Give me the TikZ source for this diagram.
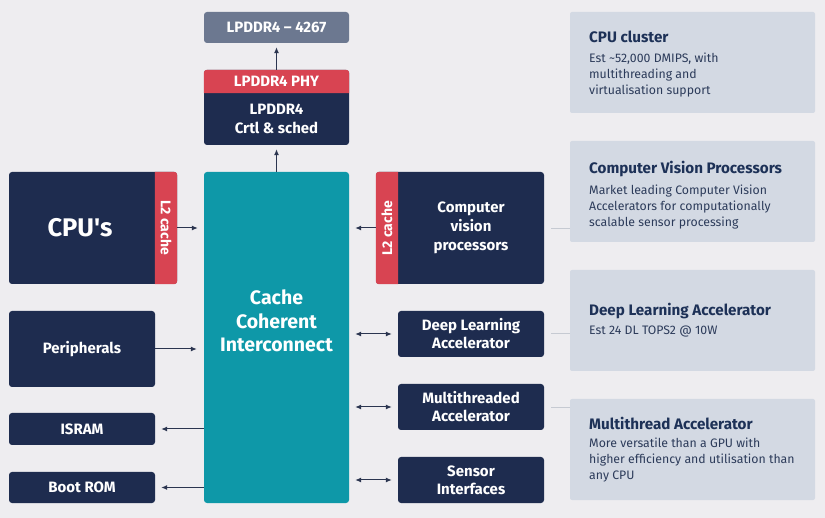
\documentclass[tikz,border=0pt]{standalone}
\usepackage{fontspec}
\setmainfont{Fira Sans}
\usetikzlibrary{arrows.meta}
\definecolor{bg}{HTML}{EEEDF0}
\definecolor{navy}{HTML}{1E2C4F}
\definecolor{l2red}{HTML}{D84452}
\definecolor{teal}{HTML}{0E98A8}
\definecolor{memgray}{HTML}{6C7890}
\definecolor{panelbg}{HTML}{D3D9E3}
\definecolor{paneltitle}{HTML}{1D3157}
\definecolor{paneltext}{HTML}{2C3B5A}
\definecolor{arrowc}{HTML}{2B3550}
\definecolor{faintc}{HTML}{C6CAD2}
\tikzset{
  blk/.style={fill=navy, rounded corners=3pt, inner sep=0pt, text=white, align=center,
              font=\fontsize{15}{18}\selectfont\bfseries},
  stripbox/.style={inner sep=0pt},
  panelbox/.style={fill=panelbg, rounded corners=2pt, inner sep=0pt, minimum width=245pt, minimum height=101pt},
  ptitle/.style={anchor=west, inner sep=0pt, text=paneltitle, font=\fontsize{15.2}{16}\selectfont\bfseries},
  pbody/.style={anchor=north west, inner sep=0pt, text=paneltext, align=left,
                font=\fontsize{12.3}{16}\selectfont},
  arr/.style={draw=arrowc, line width=1pt, -{Latex[length=6pt,width=5pt]}},
  darr/.style={draw=arrowc, line width=1pt, {Latex[length=6pt,width=5pt]}-{Latex[length=6pt,width=5pt]}},
  faint/.style={draw=faintc, line width=0.8pt},
  wtext/.style={text=white, inner sep=0pt, align=center}
}
\begin{document}
\begin{tikzpicture}[x=1pt,y=-1pt]
\useasboundingbox[fill=bg] (0,0) rectangle (825,518);

% memory column
\node[blk, fill=memgray, minimum width=145pt, minimum height=31pt] (mem) at (276.5,27.5) {LPDDR4 -- 4267};
\node[blk, minimum width=145pt, minimum height=75pt] (ctrlbg) at (276.5,107.5) {};
\node[stripbox, minimum width=145pt, minimum height=23pt] (phy) at (276.5,81.5) {};
\fill[l2red] (phy.south west) [rounded corners=3pt] -- (phy.north west) -- (phy.north east) [sharp corners] -- (phy.south east) -- cycle;
\node[wtext, font=\fontsize{15}{18}\selectfont\bfseries] (phyt) at (phy.center) {LPDDR4 PHY};
\node[wtext, font=\fontsize{15}{19}\selectfont\bfseries] (ctrl) at (276.5,119) {LPDDR4\\Crtl \& sched};

% interconnect
\node[fill=teal, rounded corners=3pt, minimum width=145pt, minimum height=331pt, inner sep=0pt] (ic) at (276.5,337.5) {};
\node[wtext, font=\fontsize{19.5}{23.5}\selectfont\bfseries] (ict) at (276.5,321) {Cache\\Coherent\\Interconnect};

% CPU
\node[blk, minimum width=168pt, minimum height=112pt] (cpu) at (93,228) {};
\node[stripbox, minimum width=22pt, minimum height=112pt] (cpul2) at (166,228) {};
\fill[l2red] (cpul2.north west) [rounded corners=3pt] -- (cpul2.north east) -- (cpul2.south east) [sharp corners] -- (cpul2.south west) -- cycle;
\node[wtext, font=\fontsize{25.5}{30}\selectfont\bfseries] (cput) at (80,228) {CPU\textquotesingle s};
\node[wtext, rotate=-90, font=\fontsize{14}{15}\selectfont\bfseries] (cpul2t) at (cpul2.center) {L2 cache};

% CV
\node[blk, minimum width=168pt, minimum height=112pt] (cv) at (460,228) {};
\node[stripbox, minimum width=22pt, minimum height=112pt] (cvl2) at (387,228) {};
\fill[l2red] (cvl2.north east) [rounded corners=3pt] -- (cvl2.north west) -- (cvl2.south west) [sharp corners] -- (cvl2.south east) -- cycle;
\node[wtext, font=\fontsize{15}{19}\selectfont\bfseries] (cvt) at (471,228) {Computer\\vision\\processors};
\node[wtext, rotate=90, font=\fontsize{14}{15}\selectfont\bfseries] (cvl2t) at (cvl2.center) {L2 cache};

% left column
\node[blk, minimum width=146pt, minimum height=76pt] (per) at (82,349) {Peripherals};
\node[blk, minimum width=146pt, minimum height=32pt] (isram) at (82,429) {ISRAM};
\node[blk, minimum width=146pt, minimum height=31pt] (boot) at (82,487.5) {Boot ROM};

% right column
\node[blk, minimum width=146pt, minimum height=46pt] (dla) at (471,334) {Deep Learning\\Accelerator};
\node[blk, minimum width=146pt, minimum height=46pt] (mta) at (471,407) {Multithreaded\\Accelerator};
\node[blk, minimum width=146pt, minimum height=46pt] (sens) at (471,480) {Sensor\\Interfaces};

% arrows
\draw[arr, shorten >=4pt] (ic.north) -- (ctrlbg.south);
\draw[arr, shorten >=4pt] (phy.north) -- (mem.south);
\draw[arr, shorten >=6pt] (cpul2.east) -- (ic.west |- cpul2.east);
\draw[arr, shorten >=6pt] (cvl2.west) -- (ic.east |- cvl2.west);
\draw[arr, shorten >=7pt] (per.east) -- (ic.west |- per.east);
\draw[arr, shorten >=6pt] (ic.west |- isram.east) -- (isram.east);
\draw[arr, shorten >=6pt] (ic.west |- boot.east) -- (boot.east);
\draw[darr, shorten >=6pt, shorten <=6pt] (ic.east |- dla.west) -- (dla.west);
\draw[darr, shorten >=6pt, shorten <=6pt] (ic.east |- mta.west) -- (mta.west);
\draw[darr, shorten >=6pt, shorten <=6pt] (ic.east |- sens.west) -- (sens.west);

% panels
\node[panelbox] (p1) at (692.5,62.5) {};
\node[panelbox] (p2) at (692.5,191.5) {};
\node[panelbox] (p3) at (692.5,320.5) {};
\node[panelbox] (p4) at (692.5,449.5) {};

\node[ptitle] (p1t) at (589,37) {CPU cluster};
\node[pbody] (p1b) at (589,52.5) {Est \textasciitilde52,000 DMIPS, with\\multithreading and\\virtualisation support};
\node[ptitle] (p2t) at (589,169) {Computer Vision Processors};
\node[pbody] (p2b) at (589,184.5) {Market leading Computer Vision\\Accelerators for computationally\\scalable sensor processing};
\node[ptitle] (p3t) at (589,311) {Deep Learning Accelerator};
\node[pbody] (p3b) at (589,326) {Est 24 DL TOPS2 @ 10W};
\node[ptitle] (p4t) at (589,423) {Multithread Accelerator};
\node[pbody] (p4b) at (589,437.5) {More versatile than a GPU with\\higher efficiency and utilisation than\\any CPU};

% faint connectors
\coordinate (f1) at (551,228);
\coordinate (f2) at (551,333);
\coordinate (f3) at (551,407);
\draw[faint] (f1) -- (p2.west |- f1);
\draw[faint] (f2) -- (p3.west |- f2);
\draw[faint] (f3) -- (p4.west |- f3);
\end{tikzpicture}
\end{document}
